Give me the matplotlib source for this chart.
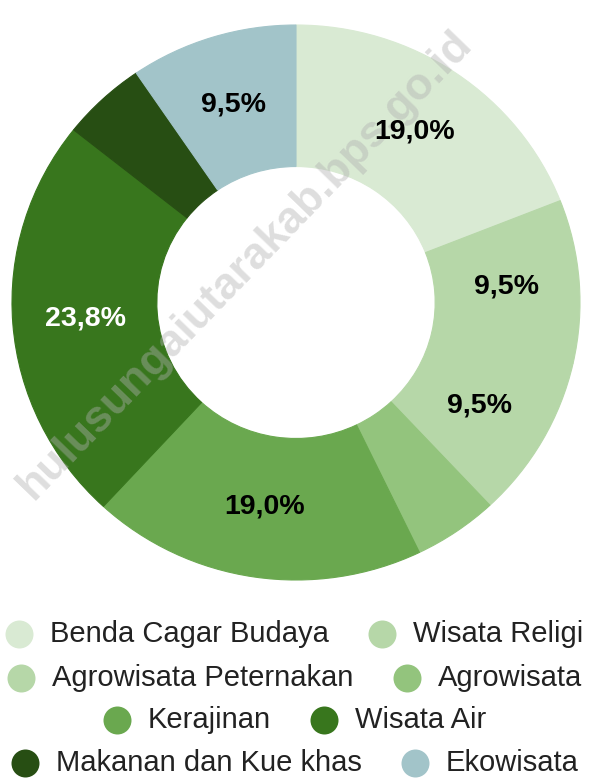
import matplotlib
matplotlib.use("Agg")
import matplotlib.pyplot as plt
from matplotlib.lines import Line2D
import numpy as np

plt.rcParams['font.family'] = ['Liberation Sans', 'DejaVu Sans']

categories = ["Benda Cagar Budaya", "Wisata Religi", "Agrowisata Peternakan", "Agrowisata",
              "Kerajinan", "Wisata Air", "Makanan dan Kue khas", "Ekowisata"]
values = [19.0, 9.5, 9.5, 4.8, 19.0, 23.8, 4.8, 9.5]
labels = ["19,0%", "9,5%", "9,5%", "", "19,0%", "23,8%", "", "9,5%"]
colors = ["#d9ead3", "#b6d7a8", "#b6d7a8", "#93c47d", "#6aa84f", "#38761d", "#274e13", "#a2c4c9"]
label_colors = ["black", "black", "black", "black", "black", "white", "white", "black"]
legend_rows = [[0, 1], [2, 3], [4, 5], [6, 7]]

W, H = 589, 779
fig = plt.figure(figsize=(W / 100, H / 100), dpi=100)
ax = fig.add_axes([12 / W, (H - 580) / H, 568 / W, 555 / H])

wedges, _ = ax.pie(values, colors=colors, startangle=90, counterclock=False,
                   wedgeprops=dict(width=0.51, linewidth=0.8))
for w, c in zip(wedges, colors):
    w.set_edgecolor(c)
ax.set_aspect("auto")
ax.set_xlim(-1, 1)
ax.set_ylim(-1, 1)
ax.axis("off")

for w, lab, lc in zip(wedges, labels, label_colors):
    if not lab:
        continue
    ang = np.deg2rad((w.theta1 + w.theta2) / 2)
    r = 0.745
    ax.text(r * np.cos(ang), r * np.sin(ang), lab, ha="center", va="center",
            fontsize=20.5, fontweight="bold", color=lc, zorder=10)

# watermark (between wedges and labels)
ax.text(245 / W, 1 - 265 / H, "hulusungaiutarakab.bps.go.id", rotation=46,
        ha="center", va="center", fontsize=32, fontweight="bold",
        color="#b0b0b0", alpha=0.42, rotation_mode="anchor", zorder=5,
        transform=fig.transFigure, clip_on=False)

# legend, centred rows
fig.canvas.draw()
renderer = fig.canvas.get_renderer()
row_y = [634, 678, 720, 763]
mk_d = 28
gap_txt = 17
gap_item = 39
for row, yy in zip(legend_rows, row_y):
    texts = []
    for i in row:
        t = fig.text(0, 1 - yy / H, categories[i], ha="left", va="center",
                     fontsize=21, color="#222222")
        texts.append(t)
    fig.canvas.draw()
    widths = [t.get_window_extent(renderer).width for t in texts]
    total = sum(mk_d + gap_txt + wd for wd in widths) + gap_item * (len(row) - 1)
    x = (W - total) / 2
    for i, t, wd in zip(row, texts, widths):
        fig.add_artist(Line2D([(x + mk_d / 2) / W], [1 - yy / H], marker="o",
                              markersize=mk_d * 0.72, color=colors[i],
                              markeredgewidth=0, transform=fig.transFigure))
        t.set_x((x + mk_d + gap_txt) / W)
        x += mk_d + gap_txt + wd + gap_item

fig.savefig("out.png", dpi=100)
